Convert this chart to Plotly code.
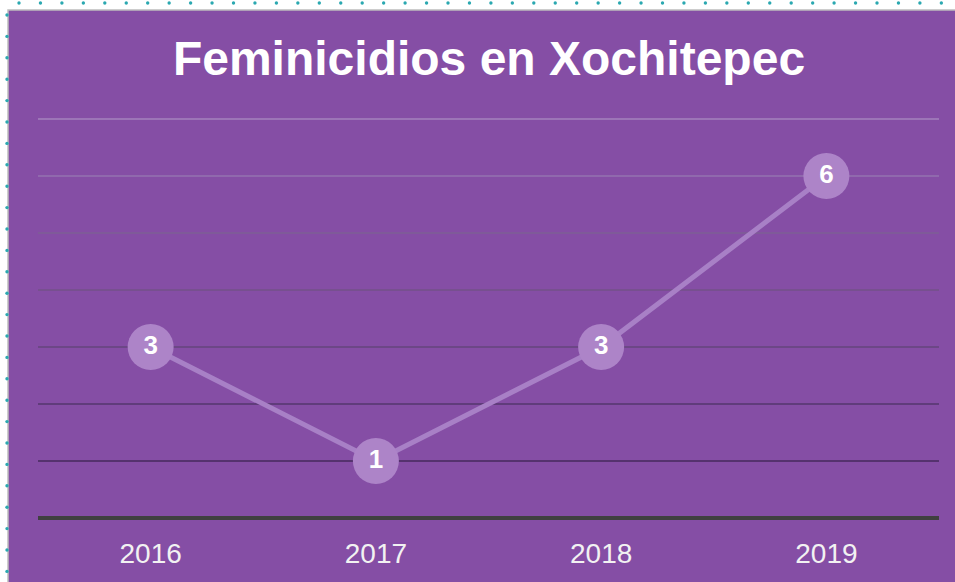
import plotly.graph_objects as go

years = ["2016", "2017", "2018", "2019"]
cases = [3, 1, 3, 6]
grid_values = [1, 2, 3, 4, 5, 6, 7]
grid_colors = ["#55326E", "#603C7B", "#6C4786", "#77508F", "#7F5A99", "#9069AD", "#9C75B7"]
y_max = 7

W, H = 955, 582
L, R, T, B = 38, 16, 119, 64
PW, PH = W - L - R, H - T - B

def px_x(px):
    return (px - L) / PW

def px_y(py):
    return (H - B - py) / PH

fig = go.Figure()

fig.add_trace(go.Scatter(
    x=years, y=cases, mode="lines+markers+text",
    line=dict(color="#A880C6", width=5),
    marker=dict(size=46, color="#AD84C8"),
    text=[str(v) for v in cases], textposition="middle center",
    textfont=dict(family="Liberation Sans, Arial", size=26, color="white", weight="bold"),
    hoverinfo="skip", cliponaxis=False,
))

shapes = []
# purple panel
shapes.append(dict(type="rect", xref="paper", yref="paper", layer="below",
                   x0=px_x(8), x1=px_x(W + 5), y0=px_y(H + 5), y1=px_y(10),
                   fillcolor="#854EA5", line=dict(color="#BDBDBD", width=1.5)))
# dotted border
dot_r = 1.7
x = 19.0
while x < W:
    shapes.append(dict(type="circle", xref="paper", yref="paper", layer="below",
                       x0=px_x(x - dot_r), x1=px_x(x + dot_r), y0=px_y(3 + dot_r), y1=px_y(3 - dot_r),
                       fillcolor="#2AA8B0", line=dict(width=0)))
    x += 21.45
y = 15.0
while y < H:
    shapes.append(dict(type="circle", xref="paper", yref="paper", layer="below",
                       x0=px_x(7 - dot_r), x1=px_x(7 + dot_r), y0=px_y(y + dot_r), y1=px_y(y - dot_r),
                       fillcolor="#2AA8B0", line=dict(width=0)))
    y += 21.4
# gridlines
for gv, gc in zip(grid_values, grid_colors):
    shapes.append(dict(type="line", xref="paper", yref="paper", layer="below",
                       x0=0, x1=1, y0=gv / y_max, y1=gv / y_max, line=dict(color=gc, width=1.8)))
# axis line
shapes.append(dict(type="line", xref="paper", yref="paper", layer="below",
                   x0=0, x1=1, y0=0, y1=0, line=dict(color="#404040", width=4)))

fig.update_layout(
    width=W, height=H,
    margin=dict(l=L, r=R, t=T, b=B),
    paper_bgcolor="white", plot_bgcolor="rgba(0,0,0,0)",
    showlegend=False,
    shapes=shapes,
    title=dict(text="<b>Feminicidios en Xochitepec</b>", x=489 / W, xanchor="center",
               y=1 - 58 / H, yanchor="middle",
               font=dict(family="Liberation Sans, Arial", size=48, color="white")),
    xaxis=dict(type="category", range=[-0.5, 3.5], showgrid=False, zeroline=False, showline=False,
               ticks="", ticklabelstandoff=16,
               tickfont=dict(family="Liberation Sans, Arial", size=28, color="#F2F2F2")),
    yaxis=dict(range=[0, y_max], showgrid=False, zeroline=False, showline=False, showticklabels=False,
               ticks=""),
)

fig.write_html("out.html", config={"displayModeBar": False},
               post_script="document.body.style.margin='0';document.body.style.overflow='hidden';")
